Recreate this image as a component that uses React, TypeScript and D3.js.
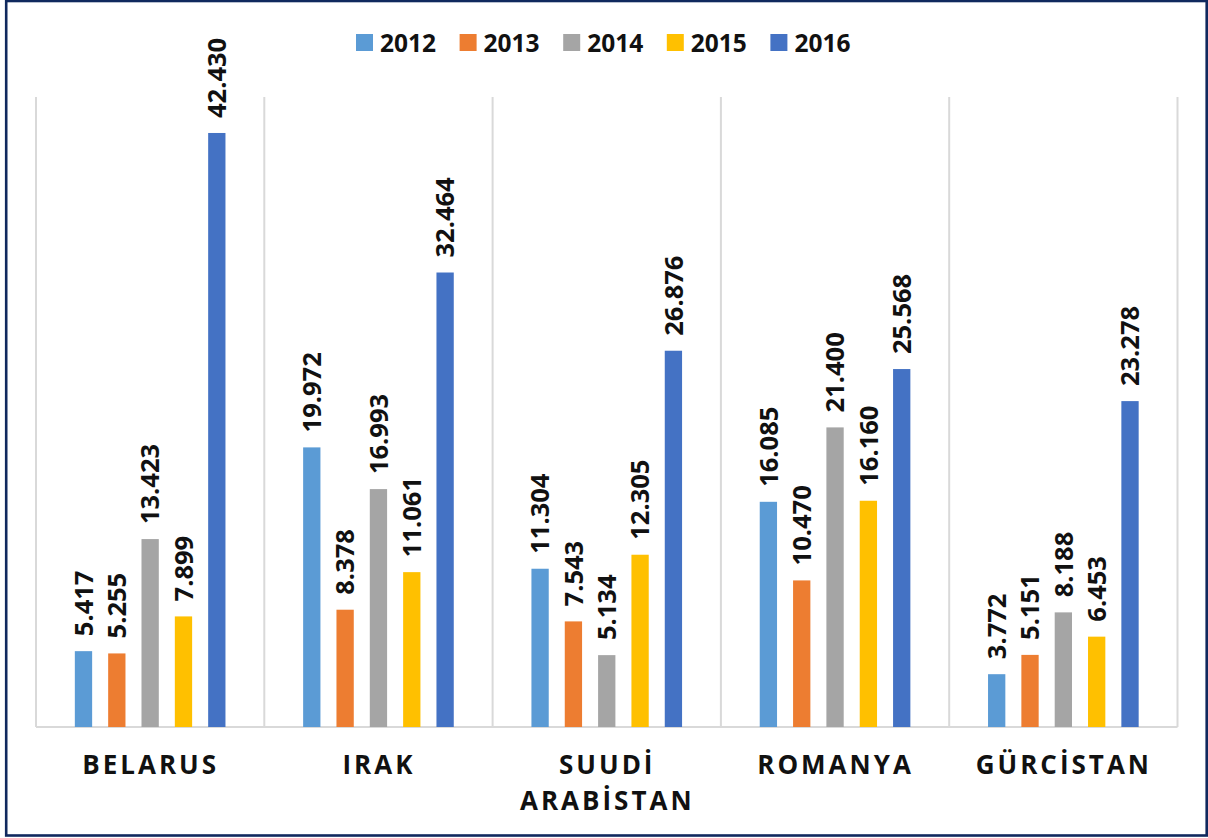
import React from "react";
import * as d3 from "d3";

const categories = ["BELARUS", "IRAK", "SUUDİ ARABİSTAN", "ROMANYA", "GÜRCİSTAN"];
const categoryLines = [["BELARUS"], ["IRAK"], ["SUUDİ", "ARABİSTAN"], ["ROMANYA"], ["GÜRCİSTAN"]];
const years = ["2012", "2013", "2014", "2015", "2016"];
const colors = ["#5b9bd5", "#ed7d31", "#a5a5a5", "#ffc000", "#4472c4"];
const values2012 = [5417, 19972, 11304, 16085, 3772];
const values2013 = [5255, 8378, 7543, 10470, 5151];
const values2014 = [13423, 16993, 5134, 21400, 8188];
const values2015 = [7899, 11061, 12305, 16160, 6453];
const values2016 = [42430, 32464, 26876, 25568, 23278];
const series = [values2012, values2013, values2014, values2015, values2016];
const yMax = 45000;

const W = 1208;
const H = 838;
const plotLeft = 36;
const plotRight = 1177.5;
const plotTop = 97;
const plotBottom = 727;

const fmt = d3
  .formatLocale({ decimal: ",", thousands: ".", grouping: [3], currency: ["", ""] })
  .format(",");

const FONT = "'Open Sans', sans-serif";

export default function App() {
  const x = d3.scaleBand<string>().domain(categories).range([plotLeft, plotRight]).padding(0);
  const y = d3.scaleLinear().domain([0, yMax]).range([plotBottom, plotTop]);
  const bw = x.bandwidth();
  const barW = bw * 0.0758;
  const step = bw * 0.146;
  const groupW = step * (years.length - 1) + barW;
  const boundaries = categories.map((c) => x(c) as number).concat([plotRight]);

  return (
    <svg width={W} height={H} style={{ position: "absolute", left: 0, top: 0, background: "#fff" }}>
      <rect x={0} y={0} width={W} height={H} fill="#fff" />
      {boundaries.map((bx, i) => (
        <line key={i} x1={bx} x2={bx} y1={plotTop} y2={plotBottom} stroke="#d9d9d9" strokeWidth={2} />
      ))}
      <line x1={plotLeft} x2={plotRight} y1={plotBottom} y2={plotBottom} stroke="#d9d9d9" strokeWidth={2} />
      {categories.map((c, ci) => {
        const x0 = (x(c) as number) + bw / 2 - groupW / 2;
        return (
          <g key={c}>
            {series.map((s, si) => {
              const v = s[ci];
              const bx = x0 + si * step;
              const by = y(v);
              const cx = bx + barW / 2;
              const ty = by - 15;
              return (
                <g key={si}>
                  <rect x={bx} y={by} width={barW} height={plotBottom - by} fill={colors[si]} />
                  <text
                    transform={`translate(${cx},${ty}) rotate(-90)`}
                    dy="0.36em"
                    fontFamily={FONT}
                    fontWeight={700}
                    fontSize={25.5}
                    fill="#111"
                  >
                    {fmt(v)}
                  </text>
                </g>
              );
            })}
            <text
              textAnchor="middle"
              fontFamily={FONT}
              fontWeight={700}
              fontSize={26}
              letterSpacing={3}
              fill="#111"
            >
              {categoryLines[ci].map((ln, li) => (
                <tspan key={li} x={(x(c) as number) + bw / 2 + 0.5} y={774 + li * 36}>
                  {ln}
                </tspan>
              ))}
            </text>
          </g>
        );
      })}
      {years.map((yr, i) => {
        const lx = 356 + i * 103.6;
        return (
          <g key={yr}>
            <rect x={lx} y={34} width={17} height={17} fill={colors[i]} />
            <text x={lx + 24} y={52} fontFamily={FONT} fontWeight={700} fontSize={24.5} fill="#111">
              {yr}
            </text>
          </g>
        );
      })}
      <rect x={6.2} y={1} width={1200.5} height={834.5} fill="none" stroke="#10295e" strokeWidth={2.6} />
    </svg>
  );
}
